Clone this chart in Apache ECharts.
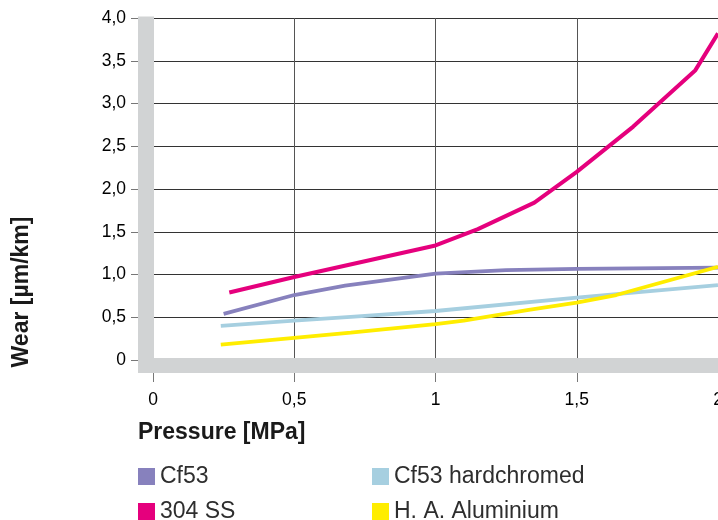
<!DOCTYPE html>
<html><head><meta charset="utf-8">
<script src="https://cdn.jsdelivr.net/npm/echarts@6/dist/echarts.min.js"></script>
<style>html,body{margin:0;padding:0;background:#fff}#c{width:718px;height:520px}</style>
</head><body><div id="c"></div>
<script>
const seriesNames = ['Cf53', 'Cf53 hardchromed', '304 SS', 'H. A. Aluminium'];
const cf53 = [[0.25,0.54],[0.5,0.76],[0.68,0.87],[1.0,1.01],[1.25,1.05],[1.5,1.065],[2.0,1.08]];
const cf53Hard = [[0.24,0.40],[0.5,0.46],[0.7,0.505],[1.0,0.573],[1.5,0.73],[2.0,0.875]];
const ss304 = [[0.27,0.79],[0.5,0.97],[1.0,1.34],[1.15,1.53],[1.35,1.84],[1.5,2.2],[1.7,2.73],[1.92,3.39],[2.0,3.82]];
const aluminium = [[0.24,0.18],[0.5,0.26],[0.7,0.32],[1.0,0.42],[1.1,0.46],[1.33,0.585],[1.5,0.67],[1.64,0.76],[2.0,1.09]];
const xTitle = 'Pressure [MPa]';
const yTitle = 'Wear [µm/km]';

const colors = ['#8781bd', '#a6cfe0', '#e5007d', '#ffed00'];
const dataSets = [cf53, cf53Hard, ss304, aluminium];
const FONT = '"Liberation Sans", Arial, Helvetica, sans-serif';
const legendPos = [[138, 465], [372, 465], [138, 500], [372, 500]];

const chart = echarts.init(document.getElementById('c'), null, {renderer: 'canvas'});
const option = {
  animation: false,
  grid: {left: 153, right: 0, top: 18, bottom: 160, outerBoundsMode: 'none', containLabel: false},
  xAxis: {
    type: 'value', min: 0, max: 2, interval: 0.5,
    axisLine: {show: false},
    axisTick: {show: true, length: 22, lineStyle: {color: '#777', width: 1}},
    axisLabel: {margin: 31, fontFamily: FONT, fontSize: 17.5, color: '#000', showMaxLabel: true,
      formatter: v => String(v).replace('.', ',')},
    splitLine: {show: true, lineStyle: {color: '#555', width: 1}}
  },
  yAxis: {
    type: 'value', min: 0, max: 4, interval: 0.5,
    axisLine: {show: false},
    axisTick: {show: true, length: 22, lineStyle: {color: '#777', width: 1}},
    axisLabel: {margin: 27, fontFamily: FONT, fontSize: 17.5, color: '#000',
      formatter: v => v === 0 ? '0' : v.toFixed(1).replace('.', ',')},
    splitLine: {show: true, lineStyle: {color: '#333', width: 1.2}}
  },
  legend: seriesNames.map((n, i) => ({
    data: [n], left: legendPos[i][0], top: legendPos[i][1], padding: 0,
    itemWidth: 17, itemHeight: 17, itemGap: 6, icon: 'rect',
    textStyle: {fontFamily: FONT, fontSize: 23, color: '#2e2e2e', lineHeight: 17}
  })),
  title: {text: xTitle, left: 138, top: 421, padding: 0,
    textStyle: {fontFamily: FONT, fontSize: 23, fontWeight: 'bold', color: '#1a1a1a'}},
  series: dataSets.map((d, i) => ({
    name: seriesNames[i], type: 'line', data: d, showSymbol: false, symbol: 'none',
    color: colors[i],
    lineStyle: {width: i === 2 ? 4 : 3.8, color: colors[i]},
    itemStyle: {color: colors[i]}, z: 2 + i
  }))
};
chart.setOption(option);

const p00 = chart.convertToPixel({gridIndex: 0}, [0, 0]);
const pTop = chart.convertToPixel({gridIndex: 0}, [0, 4]);
const pRight = chart.convertToPixel({gridIndex: 0}, [2, 0]);
chart.setOption({
  graphic: [
    {type: 'rect', z: 100, shape: {x: p00[0] - 15, y: pTop[1] - 1.5, width: 16, height: (p00[1] + 13) - (pTop[1] - 1.5)},
      style: {fill: '#d1d3d4'}},
    {type: 'rect', z: 100, shape: {x: p00[0] - 15, y: p00[1] - 2, width: pRight[0] - p00[0] + 20, height: 15},
      style: {fill: '#d1d3d4'}},
    {type: 'text', z: 100, x: 22, y: 292, rotation: Math.PI / 2,
      style: {text: yTitle, font: 'bold 23px ' + FONT, fill: '#1a1a1a', align: 'center', verticalAlign: 'middle'}}
  ]
});
</script></body></html>
